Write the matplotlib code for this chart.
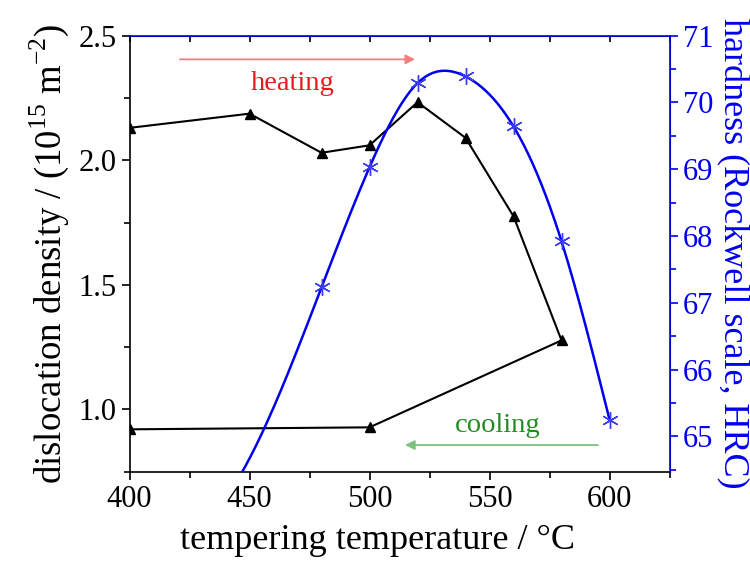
import numpy as np
import matplotlib
matplotlib.use("Agg")
import matplotlib.pyplot as plt

plt.rcParams['font.family'] = ['Liberation Serif', 'DejaVu Serif']
plt.rcParams['mathtext.fontset'] = 'custom'
plt.rcParams['mathtext.rm'] = 'Liberation Serif'

# dislocation density, heating 400->580 then cooling back to 400
temp_disl = [400, 450, 480, 500, 520, 540, 560, 580, 500, 400]
disl = [2.13, 2.187, 2.03, 2.06, 2.233, 2.09, 1.775, 1.277, 0.928, 0.92]

# hardness HRC
temp_hrc = [480, 500, 520, 540, 560, 580, 600]
hrc = [67.23, 69.03, 70.29, 70.39, 69.64, 67.92, 65.25]


def natural_spline(x, y, xs):
    # plain natural cubic spline, first/last piece extended outside
    x = np.asarray(x, float)
    y = np.asarray(y, float)
    n = len(x)
    h = np.diff(x)
    A = np.zeros((n, n))
    r = np.zeros(n)
    A[0, 0] = A[-1, -1] = 1
    for i in range(1, n - 1):
        A[i, i - 1] = h[i - 1]
        A[i, i] = 2 * (h[i - 1] + h[i])
        A[i, i + 1] = h[i]
        r[i] = 6 * ((y[i + 1] - y[i]) / h[i] - (y[i] - y[i - 1]) / h[i - 1])
    M = np.linalg.solve(A, r)
    k = np.clip(np.searchsorted(x, xs) - 1, 0, n - 2)
    a = x[k + 1] - xs
    b = xs - x[k]
    hk = h[k]
    return (M[k] * a**3 / (6 * hk) + M[k + 1] * b**3 / (6 * hk)
            + (y[k] / hk - M[k] * hk / 6) * a
            + (y[k + 1] / hk - M[k + 1] * hk / 6) * b)


fig = plt.figure(figsize=(7.5, 5.61), dpi=100)
ax = fig.add_axes([0.1727, 0.1592, 0.7200, 0.7772])
ax2 = ax.twinx()

ax.plot(temp_disl, disl, color='black', lw=1.5, marker='^', ms=7, zorder=3)

xs = np.linspace(420, 600, 400)
ax2.plot(xs, natural_spline(temp_hrc, hrc, xs), color='#0000ee', lw=1.8)
ax2.plot(temp_hrc, hrc, ls='none', marker=(6, 2, 0), ms=12, mew=1.0,
         color='#3b3bf0')

ax.set_xlim(400, 625)
ax.set_ylim(0.8, 2.5)
ax2.set_ylim(64.47, 71)

ax.set_xticks([400, 450, 500, 550, 600])
ax.set_xticks(np.arange(400, 626, 25), minor=True)
ax.set_yticks([1.0, 1.5, 2.0, 2.5])
ax.set_yticks([0.75, 1.25, 1.75, 2.25], minor=True)
ax.set_yticklabels(['1.0', '1.5', '2.0', '2.5'])
ax2.set_yticks([65, 66, 67, 68, 69, 70, 71])
ax2.set_yticks(np.arange(64.5, 71, 0.5), minor=True)

ax.tick_params(axis='both', which='both', direction='out', labelsize=22,
               width=1.2, color='black')
ax.tick_params(which='major', length=6)
ax.tick_params(which='minor', length=4)
ax2.tick_params(axis='y', which='both', direction='out', colors='#0000ee',
                labelsize=22, width=1.2)
ax2.tick_params(which='major', length=6)
ax2.tick_params(which='minor', length=4)

for s in ['left', 'bottom']:
    ax.spines[s].set_linewidth(1.2)
ax2.spines['left'].set_visible(False)
ax2.spines['bottom'].set_visible(False)
ax2.spines['right'].set_color('#0000ee')
ax2.spines['top'].set_color('#0000ee')
ax2.spines['right'].set_linewidth(1.2)
ax2.spines['top'].set_linewidth(1.2)

# top ticks inward, blue
ax.tick_params(axis='x', which='both', top=True, labeltop=False)
for t in ax.xaxis.get_major_ticks() + ax.xaxis.get_minor_ticks():
    t.tick2line.set_color('#0000ee')
    t.tick2line.set_marker(3)
    t.tick2line.set_markersize(4)

ax.set_xlabel('tempering temperature / °C', fontsize=26)
ax.xaxis.set_label_coords(0.46, -0.12)
ax.set_ylabel('dislocation density / (10$^{15}$ m$^{-2}$)', fontsize=26.5,
              labelpad=5)
ax2.set_ylabel('hardness (Rockwell scale, HRC)', fontsize=26,
               color='#0000ee', rotation=270, labelpad=26)

# heating / cooling arrows
ax.annotate('', xy=(519, 2.405), xytext=(421, 2.405),
            arrowprops=dict(arrowstyle='-|>', color='#f08080', lw=1.3,
                            mutation_scale=14, shrinkA=0, shrinkB=0))
ax.text(468, 2.31, 'heating', color='#e41a1c', fontsize=20.5,
        ha='center', va='center')
ax.annotate('', xy=(514.8, 0.857), xytext=(595.2, 0.857),
            arrowprops=dict(arrowstyle='-|>', color='#7cc27c', lw=1.3,
                            mutation_scale=14, shrinkA=0, shrinkB=0))
ax.text(553.5, 0.935, 'cooling', color='#228b22', fontsize=20.5,
        ha='center', va='center')

fig.savefig('out.png', dpi=100)
